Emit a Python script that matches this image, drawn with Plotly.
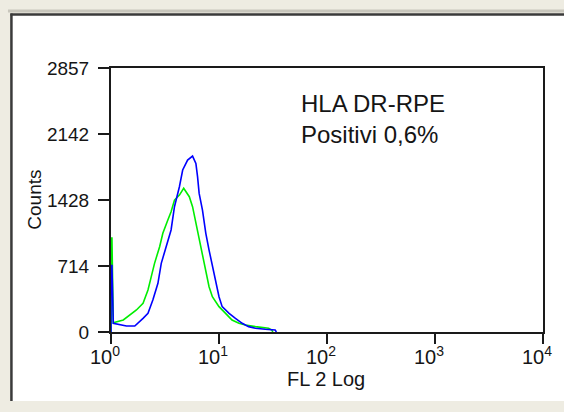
import plotly.graph_objects as go

# ---- data ----
y_ticks = [0, 714, 1428, 2142, 2857]
x_ticks = [1, 10, 100, 1000, 10000]
x_tick_labels = ["10<sup>0</sup>", "10<sup>1</sup>", "10<sup>2</sup>", "10<sup>3</sup>", "10<sup>4</sup>"]

green_x = [1.0, 1.0, 1.02, 1.05, 1.30, 1.49, 1.72, 1.98, 2.20, 2.36, 2.53, 2.82, 3.02, 3.36,
           3.60, 3.87, 4.30, 4.71, 4.95, 5.31, 5.69, 6.11, 6.55, 7.03, 7.55, 8.09, 8.68,
           10.0, 11.5, 13.2, 15.3, 17.6, 21.7, 28.8, 30.8, 31.5]
green_counts = [0, 1017, 1017, 100, 130, 184, 238, 310, 454, 599, 743, 923, 1068, 1212,
                1302, 1428, 1482, 1555, 1518, 1464, 1356, 1176, 995, 815, 635, 490, 382,
                274, 202, 130, 94, 76, 58, 40, 22, 0]

blue_x = [1.0, 1.0, 1.02, 1.05, 1.39, 1.66, 1.98, 2.20, 2.44, 2.72, 2.92, 3.24, 3.60, 3.87,
          4.30, 4.61, 5.12, 5.69, 6.11, 6.33, 6.55, 7.03, 7.55, 8.09, 8.68, 9.33, 10.0,
          10.7, 12.4, 14.2, 16.4, 18.8, 21.7, 26.8, 33.1, 34.0]
blue_counts = [0, 720, 720, 94, 65, 65, 148, 202, 346, 527, 743, 923, 1104, 1356,
               1572, 1753, 1861, 1904, 1825, 1681, 1500, 1320, 1068, 887, 707, 527, 382,
               274, 202, 148, 94, 58, 40, 29, 22, 0]

annotation_lines = ["HLA DR-RPE", "Positivi 0,6%"]
x_title = "FL 2 Log"
y_title = "Counts"

FONT = "Liberation Sans, Arial, sans-serif"
INK = "#151515"

fig = go.Figure()
fig.add_trace(go.Scatter(x=green_x, y=green_counts, mode="lines",
                         line=dict(color="#00ee00", width=1.6), showlegend=False))
fig.add_trace(go.Scatter(x=blue_x, y=blue_counts, mode="lines",
                         line=dict(color="#0000ff", width=1.6), showlegend=False))

# window-like frame (paper coords: plot area x 111..547, y 68..332 px)
def px_x(X):
    return (X - 111) / 436.0

def px_y(Y):
    return (332 - Y) / 264.0

shapes = [
    dict(type="rect", xref="paper", yref="paper", layer="below",
         x0=px_x(11), x1=px_x(600), y0=px_y(401), y1=px_y(15),
         fillcolor="white", line=dict(width=0)),
    dict(type="line", xref="paper", yref="paper", layer="below",
         x0=px_x(10.5), x1=px_x(10.5), y0=px_y(401), y1=px_y(13.5),
         line=dict(color="#3a3a3a", width=2.5)),
    dict(type="line", xref="paper", yref="paper", layer="below",
         x0=px_x(9.5), x1=px_x(600), y0=px_y(14.5), y1=px_y(14.5),
         line=dict(color="#3a3a3a", width=2.5)),
    dict(type="line", xref="paper", yref="paper", layer="below",
         x0=px_x(7), x1=px_x(600), y0=px_y(11), y1=px_y(11),
         line=dict(color="#c8c6bc", width=3)),
]

annotations = [
    dict(xref="paper", yref="paper", x=px_x(301), y=px_y(88), xanchor="left", yanchor="top",
         align="left", showarrow=False, text="<br>".join(annotation_lines),
         font=dict(family=FONT, size=24, color=INK)),
    dict(xref="paper", yref="paper", x=px_x(328), y=px_y(379), xanchor="center", yanchor="middle",
         showarrow=False, text=x_title, font=dict(family=FONT, size=20, color=INK)),
    dict(xref="paper", yref="paper", x=px_x(33), y=0.5, xanchor="center", yanchor="middle",
         showarrow=False, text=y_title, textangle=-90, font=dict(family=FONT, size=19, color=INK)),
]

fig.update_layout(
    width=564, height=412,
    margin=dict(l=111, r=17, t=68, b=80),
    paper_bgcolor="#eeece2",
    plot_bgcolor="white",
    shapes=shapes,
    annotations=annotations,
    font=dict(family=FONT, size=19, color=INK),
    xaxis=dict(type="log", range=[0, 4], tickvals=x_ticks, ticktext=x_tick_labels,
               showgrid=False, zeroline=False, showline=True, linecolor="#1a1a1a", linewidth=2,
               mirror=True, ticks="outside", ticklen=10, tickwidth=2, tickcolor="#1a1a1a",
               layer="below traces", ticklabelstandoff=-4, ticklabelshift=-6,
               tickfont=dict(family=FONT, size=20, color=INK)),
    yaxis=dict(range=[0, 2857], tickvals=y_ticks, ticktext=[str(v) for v in y_ticks],
               showgrid=False, zeroline=False, showline=True, linecolor="#1a1a1a", linewidth=2,
               mirror=True, ticks="outside", ticklen=11, tickwidth=2, tickcolor="#1a1a1a",
               layer="below traces", ticklabelstandoff=5,
               tickfont=dict(family=FONT, size=19, color=INK)),
)

fig.write_html("out.html", config={"displayModeBar": False},
               post_script="document.body.style.margin='0';document.body.style.padding='0';"
                           "document.body.style.overflow='hidden';")
